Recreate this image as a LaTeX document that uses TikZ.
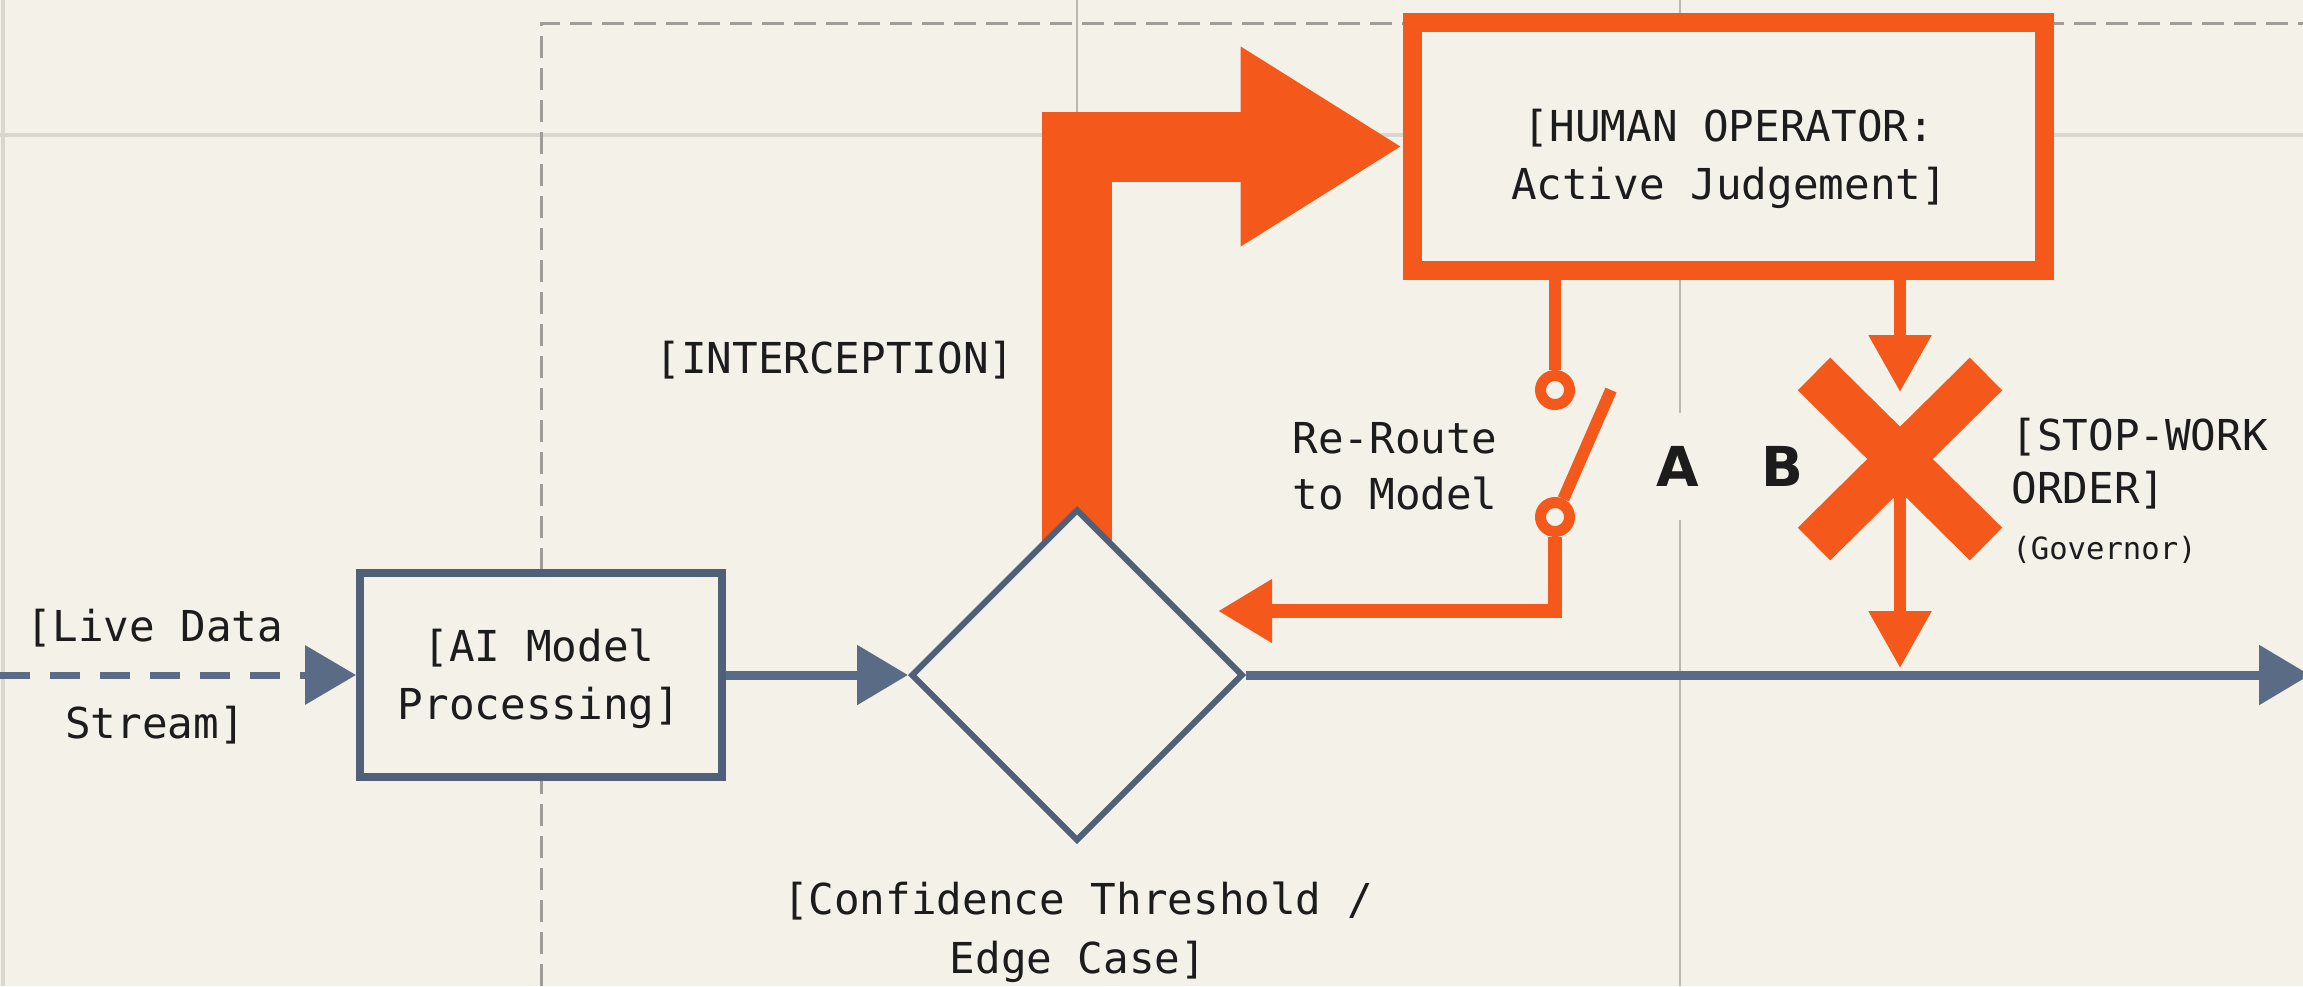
\documentclass[tikz,border=0pt]{standalone}
\usepackage{fontspec}
\newfontfamily\monof{DejaVu Sans Mono}
\newfontfamily\sansf{DejaVu Sans}
\usetikzlibrary{arrows.meta,shapes.geometric}
\definecolor{bgc}{HTML}{F3F1E8}
\definecolor{slate}{HTML}{5A6B86}
\definecolor{slatedark}{HTML}{4F6078}
\definecolor{orng}{HTML}{F4581A}
\definecolor{gridc}{HTML}{DAD7CE}
\definecolor{rulec}{HTML}{BAB8B0}
\definecolor{dashc}{HTML}{9E9D97}
\definecolor{txt}{HTML}{1C1C1C}
\pgfdeclarelayer{bg}
\pgfdeclarelayer{under}
\pgfsetlayers{bg,under,main}
\begin{document}
\begin{tikzpicture}[x=0.5pt,y=-0.5pt,
  mono/.style={font=\monof\fontsize{21.3pt}{29pt}\selectfont, text=txt, align=center, inner sep=0pt},
  flow/.style={draw=slate, line width=4.5pt, -{Triangle[length=25.5pt,width=29pt]}},
  aibox/.style={rectangle, draw=slatedark, line width=4pt, fill=bgc, minimum width=181pt, minimum height=102pt, inner sep=0pt},
  humanbox/.style={rectangle, draw=orng, line width=9.5pt, fill=bgc, minimum width=316pt, minimum height=124pt, inner sep=0pt},
  decision/.style={diamond, aspect=1, draw=slatedark, line width=3pt, fill=bgc, minimum width=166pt, minimum height=166pt, inner sep=0pt},
  orangeline/.style={draw=orng, line width=6pt},
  otip/.style={-{Triangle[length=28.5pt,width=30pt]}},
  circ/.style={circle, draw=orng, line width=5.5pt, fill=bgc, minimum size=14.5pt, inner sep=0pt},
  letter/.style={font=\sansf\bfseries\fontsize{27.5pt}{30pt}\selectfont, text=txt, fill=bgc, minimum height=53.5pt, inner xsep=3pt, inner ysep=0pt},
  xarm/.style={draw=orng, line width=23pt},
  gridline/.style={draw=gridc, line width=2pt},
  ruleline/.style={draw=rulec, line width=1.2pt},
  zoneline/.style={draw=dashc, line width=1.5pt, dash pattern=on 11pt off 5pt}
]
\useasboundingbox (0,0) rectangle (2303,986);
\begin{pgfonlayer}{bg}
  \fill[bgc] (0,0) rectangle (2303,986);
  \draw[gridline] (3,0) -- (3,986);
  \draw[gridline] (0,135) -- (2303,135);
  \draw[ruleline] (1680,0) -- (1680,986);
  \draw[ruleline] (1077,0) -- (1077,140);
  \draw[zoneline] (541,986) -- (541,23) -- (2303,23);
\end{pgfonlayer}

% nodes
\node[aibox] (ai) at (541,675) {};
\node[mono] (aitext) at (539,679) {[AI Model\\Processing]};
\node[decision] (dec) at (1077,675) {};
\node[humanbox] (human) at (1728,146.5) {};
\node[mono] (humantext) at (1729,159) {[HUMAN OPERATOR:\\Active Judgement]};
\node[circ] (c1) at (1555,390) {};
\node[circ] (c2) at (1555,517) {};
\coordinate (bladetop) at (1611,390);
\node[minimum size=67pt, inner sep=0pt, outer sep=0pt] (stopx) at (1900,459) {};
\coordinate (src) at (0,675);
\coordinate (sink) at (2310,675);
\coordinate (reroutetip) at (1218,611);

% labels
\node[mono, font=\monof\fontsize{21.3pt}{48.5pt}\selectfont] (live) at (155,677) {[Live Data\\Stream]};
\node[mono] (intercept) at (835,360) {[INTERCEPTION]};
\node[mono, font=\monof\fontsize{21.3pt}{29.5pt}\selectfont] (conf) at (1078,932) {[Confidence Threshold /\\Edge Case]};
\node[mono, font=\monof\fontsize{21.3pt}{28pt}\selectfont] (reroute) at (1395,466) {Re-Route\\to Model};
\node[letter] (labA) at (1678,466) {A};
\node[letter] (labB) at (1782,466) {B};
\node[mono, align=left, anchor=west, font=\monof\fontsize{21.3pt}{26.5pt}\selectfont] (stop) at (2011,464) {[STOP-WORK\\ORDER]};
\node[mono, anchor=west, font=\monof\fontsize{15.3pt}{18pt}\selectfont] (gov) at (2012,550) {(Governor)};

% main flow
\draw[flow, line width=3.5pt, dash pattern=on 15pt off 10pt] (src) -- (ai.west);
\draw[flow] (ai.east) -- (dec.west);
\draw[flow] (dec.east) -- (sink);

% interception arrow
\begin{pgfonlayer}{under}
  \draw[draw=orng, line width=35pt, line join=miter, -{Triangle[length=81pt,width=94pt]}] (dec.center) |- (human.west);
\end{pgfonlayer}

% stop-work branch
\draw[orangeline, otip] (human.south -| stopx) -- (stopx.north);
\draw[xarm] (stopx.center) ++(-86,-85) -- ++(172,170);
\draw[xarm] (stopx.center) ++(86,-85) -- ++(-172,170);
\draw[orangeline, otip, shorten >=3.5pt] (stopx.center) -- (stopx |- sink);

% re-route branch
\draw[orangeline] (c1 |- human.south) -- (c1.north);
\draw[orangeline] (c2.65) -- (bladetop);
\draw[orangeline, line width=7pt, line join=miter, -{Triangle[length=27pt,width=30pt]}] (c2.south) |- (reroutetip);
\end{tikzpicture}
\end{document}
